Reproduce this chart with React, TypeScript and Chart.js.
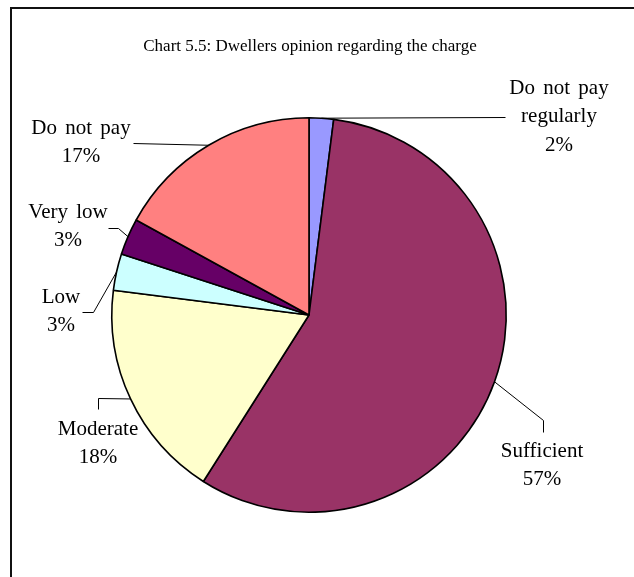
import React, { useEffect, useRef } from "react";
import { Chart, registerables } from "chart.js";

Chart.register(...registerables);

const chartTitle = "Chart 5.5: Dwellers opinion regarding the charge";
const categories = ["Do not pay regularly", "Sufficient", "Moderate", "Low", "Very low", "Do not pay"];
const categoryLines = [["Do not pay", "regularly"], ["Sufficient"], ["Moderate"], ["Low"], ["Very low"], ["Do not pay"]];
const values = [2, 57, 18, 3, 3, 17];
const colors = ["#9999FF", "#993366", "#FFFFCC", "#CCFFFF", "#660066", "#FF8080"];

// label placement: text centre x, first line centre y, and leader elbow points
const labelLayout = [
  { tx: 559, ty: 88, path: [[505, 117]] },
  { tx: 542, ty: 451, path: [[543, 420], [543, 432]] },
  { tx: 98, ty: 429, path: [[98, 398], [98, 409]] },
  { tx: 61, ty: 297, path: [[93, 312], [82, 312]] },
  { tx: 68, ty: 212, path: [[118, 228], [108, 228]] },
  { tx: 81, ty: 128, path: [[133, 143]] },
];

const FONT = '"Liberation Serif", "Times New Roman", serif';

const decorPlugin = {
  id: "decor",
  afterDraw(chart: any) {
    const ctx = chart.ctx as any;
    ctx.save();
    // frame
    ctx.strokeStyle = "#111";
    ctx.lineWidth = 2;
    ctx.beginPath();
    ctx.moveTo(11, 577);
    ctx.lineTo(11, 8);
    ctx.lineTo(634, 8);
    ctx.stroke();

    // title
    ctx.fillStyle = "#000";
    ctx.textAlign = "center";
    ctx.textBaseline = "middle";
    ctx.font = `17px ${FONT}`;
    ctx.fillText(chartTitle, 310, 47);

    // labels and leaders
    const meta = chart.getDatasetMeta(0);
    meta.data.forEach((arc: any, i: number) => {
      const mid = (arc.startAngle + arc.endAngle) / 2;
      const ax = arc.x + Math.cos(mid) * arc.outerRadius;
      const ay = arc.y + Math.sin(mid) * arc.outerRadius;
      const lay = labelLayout[i];
      ctx.strokeStyle = "#000";
      ctx.lineWidth = 1;
      ctx.beginPath();
      ctx.moveTo(ax, ay);
      lay.path.forEach((p) => ctx.lineTo(p[0] + 0.5, p[1] + 0.5));
      ctx.stroke();

      const lines = [...categoryLines[i], `${values[i]}%`];
      ctx.font = `21px ${FONT}`;
      ctx.wordSpacing = "3px";
      ctx.fillStyle = "#000";
      lines.forEach((t, k) => {
        ctx.fillText(t, lay.tx, lay.ty + k * 28.5);
      });
      ctx.wordSpacing = "0px";
    });
    ctx.restore();
  },
};

export default function App() {
  const ref = useRef<HTMLCanvasElement | null>(null);
  useEffect(() => {
    document.body.style.margin = "0";
    const canvas = ref.current;
    if (!canvas) return;
    const chart = new Chart(canvas, {
      type: "pie",
      data: {
        labels: categories,
        datasets: [
          {
            data: values,
            backgroundColor: colors,
            borderColor: "#000",
            borderWidth: 1.6,
          },
        ],
      },
      options: {
        responsive: false,
        animation: false,
        events: [],
        layout: { padding: { left: 111, right: 127, top: 117, bottom: 64 } },
        plugins: {
          legend: { display: false },
          tooltip: { enabled: false },
          title: { display: false },
        },
      },
      plugins: [decorPlugin],
    });
    return () => chart.destroy();
  }, []);
  return (
    <div style={{ width: 634, height: 577, background: "#fff" }}>
      <canvas ref={ref} width={634} height={577} style={{ display: "block", width: 634, height: 577 }} />
    </div>
  );
}
